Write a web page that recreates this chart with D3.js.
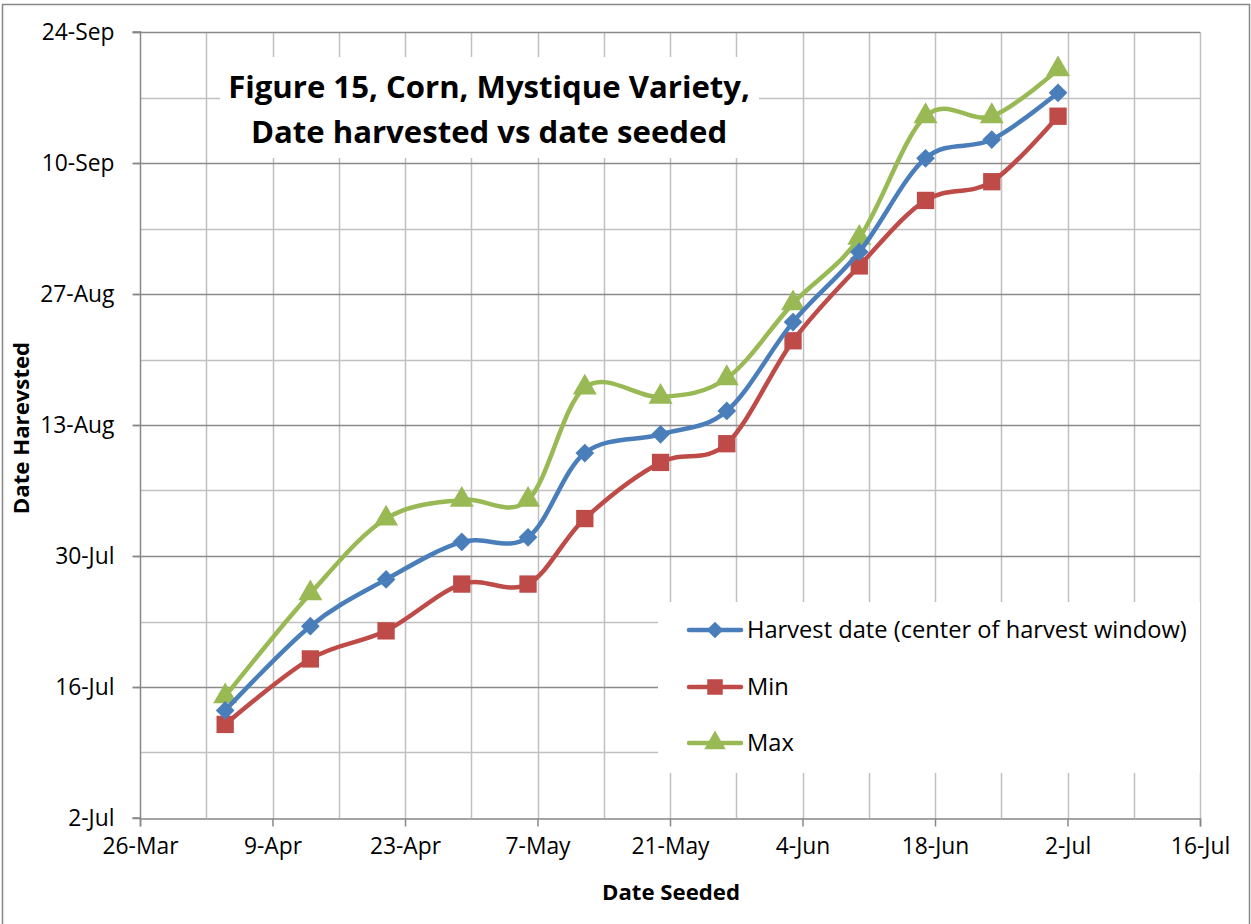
<!DOCTYPE html>
<html>
<head>
<meta charset="utf-8">
<script src="https://cdn.jsdelivr.net/npm/d3@7"></script>
<style>
  html, body { margin: 0; padding: 0; background: #fff; }
  svg { display: block; font-family: "Open Sans", Lato, sans-serif; }
</style>
</head>
<body>
<svg id="chart" width="1251" height="924"></svg>
<script>
// ---- data ----
const seedDates = ["2013-04-04","2013-04-13","2013-04-21","2013-04-29","2013-05-06","2013-05-12","2013-05-20","2013-05-27","2013-06-03","2013-06-10","2013-06-17","2013-06-24","2013-07-01"];
const harvestCenter = ["2013-07-13T12:00","2013-07-22T12:00","2013-07-27T12:00","2013-07-31T12:00","2013-08-01T00:00","2013-08-10T00:00","2013-08-12T00:00","2013-08-14T12:00","2013-08-24T00:00","2013-08-31T12:00","2013-09-10T12:00","2013-09-12T12:00","2013-09-17T12:00"];
const harvestMin = ["2013-07-12","2013-07-19","2013-07-22","2013-07-27","2013-07-27","2013-08-03","2013-08-09","2013-08-11","2013-08-22","2013-08-30","2013-09-06","2013-09-08","2013-09-15"];
const harvestMax = ["2013-07-15","2013-07-26","2013-08-03","2013-08-05","2013-08-05","2013-08-17","2013-08-16","2013-08-18","2013-08-26","2013-09-02","2013-09-15","2013-09-15","2013-09-20"];
const seriesNames = ["Harvest date (center of harvest window)","Min","Max"];
const xTickLabels = ["26-Mar","9-Apr","23-Apr","7-May","21-May","4-Jun","18-Jun","2-Jul","16-Jul"];
const yTickLabels = ["2-Jul","16-Jul","30-Jul","13-Aug","27-Aug","10-Sep","24-Sep"];
const titleLines = ["Figure 15, Corn, Mystique Variety,","Date harvested vs date seeded"];
const xTitle = "Date Seeded";
const yTitle = "Date Harevsted";

// ---- setup ----
const parse = s => new Date(s.length > 10 ? s : s + "T00:00");
const svg = d3.select("#chart");
const W = 1251, H = 924;
const L = 140, R = 1200, T = 32, B = 818;
const FONT = "'Open Sans', Lato, sans-serif";

// font size that makes a string reach a target width
function fitSize(str, weight, target) {
  const t = svg.append("text").style("font-family", FONT).style("font-weight", weight)
    .style("font-size", "100px").text(str);
  const w = t.node().getComputedTextLength();
  t.remove();
  return 100 * target / w;
}
const tickSize = fitSize(xTickLabels[0], "normal", 76);
const titleSize = fitSize(titleLines[0], "bold", 522);
const legendSize = fitSize(seriesNames[0], "normal", 440);
const axisTitleSize = fitSize(xTitle, "bold", 138);

const x = d3.scaleTime().domain([parse("2013-03-26"), parse("2013-07-16")]).range([L, R]);
const y = d3.scaleTime().domain([parse("2013-07-02"), parse("2013-09-24")]).range([B, T]);
const DAY = 86400000;
const xMajor = d3.range(0, 9).map(i => new Date(x.domain()[0].getTime() + i * 14 * DAY));
const xMinor = d3.range(0, 17).map(i => new Date(x.domain()[0].getTime() + i * 7 * DAY));
const yMajor = d3.range(0, 7).map(i => new Date(y.domain()[0].getTime() + i * 14 * DAY));
const yMinor = d3.range(0, 13).map(i => new Date(y.domain()[0].getTime() + i * 7 * DAY));

svg.append("rect").attr("x", 0).attr("y", 0).attr("width", W).attr("height", H).attr("fill", "#fff");
svg.append("rect").attr("x", 2.5).attr("y", 4.5).attr("width", 1247).attr("height", 940)
  .attr("fill", "none").attr("stroke", "#878787").attr("stroke-width", 1.5);

// gridlines
const grid = svg.append("g");
grid.selectAll(".vg").data(xMinor.slice(1)).join("line")
  .attr("x1", d => Math.round(x(d)) + 0.5).attr("x2", d => Math.round(x(d)) + 0.5)
  .attr("y1", T).attr("y2", B).attr("stroke", "#c0c0c0").attr("stroke-width", 1.5);
grid.selectAll(".hgm").data(yMinor.filter((d, i) => i % 2 === 1)).join("line")
  .attr("x1", L).attr("x2", R).attr("y1", d => Math.round(y(d)) + 0.5).attr("y2", d => Math.round(y(d)) + 0.5)
  .attr("stroke", "#c0c0c0").attr("stroke-width", 1.5);
grid.selectAll(".hgM").data(yMajor.slice(1)).join("line")
  .attr("x1", L - 7).attr("x2", R).attr("y1", d => Math.round(y(d)) + 0.5).attr("y2", d => Math.round(y(d)) + 0.5)
  .attr("stroke", "#8a8a8a").attr("stroke-width", 1.5);

// axes
const xAxis = d3.axisBottom(x).tickValues(xMajor).tickFormat((d, i) => xTickLabels[i]).tickSize(8).tickPadding(11);
const yAxis = d3.axisLeft(y).tickValues(yMajor).tickFormat((d, i) => yTickLabels[i]).tickSize(8).tickPadding(18);
const gx = svg.append("g").attr("transform", `translate(0,${B + 0.5})`).call(xAxis);
const gy = svg.append("g").attr("transform", `translate(${L + 0.5},0)`).call(yAxis);
[gx, gy].forEach(g => {
  g.select(".domain").attr("stroke", "#878787").attr("stroke-width", 1.5);
  g.selectAll(".tick line").attr("stroke", "#878787").attr("stroke-width", 1.5);
  g.selectAll(".tick text").attr("fill", "#000").style("font-size", tickSize + "px").style("font-family", FONT);
});
gy.select(".domain").attr("d", `M-8,${B}H0V${T}H-8`);

// title box
svg.append("rect").attr("x", 220).attr("y", 57).attr("width", 539).attr("height", 101).attr("fill", "#fff");
const title = svg.append("text").attr("text-anchor", "middle").attr("font-weight", "bold")
  .style("font-size", titleSize + "px").attr("fill", "#000");
title.append("tspan").attr("x", 489).attr("y", 98).text(titleLines[0]);
title.append("tspan").attr("x", 489).attr("y", 143).text(titleLines[1]);

// series
const series = [
  { name: seriesNames[0], vals: harvestCenter, color: "#4a7ebb", sym: d3.symbolSquare, size: 175, rot: 45 },
  { name: seriesNames[1], vals: harvestMin, color: "#be4b48", sym: d3.symbolSquare, size: 300, rot: 0 },
  { name: seriesNames[2], vals: harvestMax, color: "#98b954", sym: d3.symbolTriangle, size: 250, rot: 0 }
];
const line = d3.line().x(d => x(d[0])).y(d => y(d[1])).curve(d3.curveCardinal.tension(0));
const drawOrder = [series[2], series[1], series[0]];
drawOrder.forEach(s => {
  const pts = seedDates.map((sd, i) => [parse(sd), parse(s.vals[i])]);
  svg.append("path").datum(pts).attr("d", line).attr("fill", "none")
    .attr("stroke", s.color).attr("stroke-width", 4.5).attr("stroke-linecap", "round");
  svg.append("g").selectAll("path").data(pts).join("path")
    .attr("d", d3.symbol().type(s.sym).size(s.size))
    .attr("transform", d => `translate(${x(d[0])},${y(d[1])}) rotate(${s.rot})`)
    .attr("fill", s.color);
});

// legend
svg.append("rect").attr("x", 658).attr("y", 602).attr("width", 542).attr("height", 171).attr("fill", "#fff");
const legRows = [630, 687, 743];
series.forEach((s, i) => {
  const g = svg.append("g").attr("transform", `translate(0,${legRows[i]})`);
  g.append("line").attr("x1", 689).attr("x2", 741).attr("y1", 0).attr("y2", 0)
    .attr("stroke", s.color).attr("stroke-width", 4.5).attr("stroke-linecap", "round");
  g.append("path").attr("d", d3.symbol().type(s.sym).size(s.size * 0.8))
    .attr("transform", `translate(715,0) rotate(${s.rot})`).attr("fill", s.color);
  g.append("text").attr("x", 747).attr("y", 0).attr("dy", "0.35em").style("font-size", legendSize + "px").attr("fill", "#000").text(s.name);
});

// axis titles
svg.append("text").attr("x", 671).attr("y", 900).attr("text-anchor", "middle").attr("font-weight", "bold")
  .style("font-size", axisTitleSize + "px").attr("fill", "#000").text(xTitle);
svg.append("text").attr("transform", "translate(29,428) rotate(-90)").attr("text-anchor", "middle").attr("font-weight", "bold")
  .style("font-size", axisTitleSize + "px").attr("fill", "#000").text(yTitle);
</script>
</body>
</html>
